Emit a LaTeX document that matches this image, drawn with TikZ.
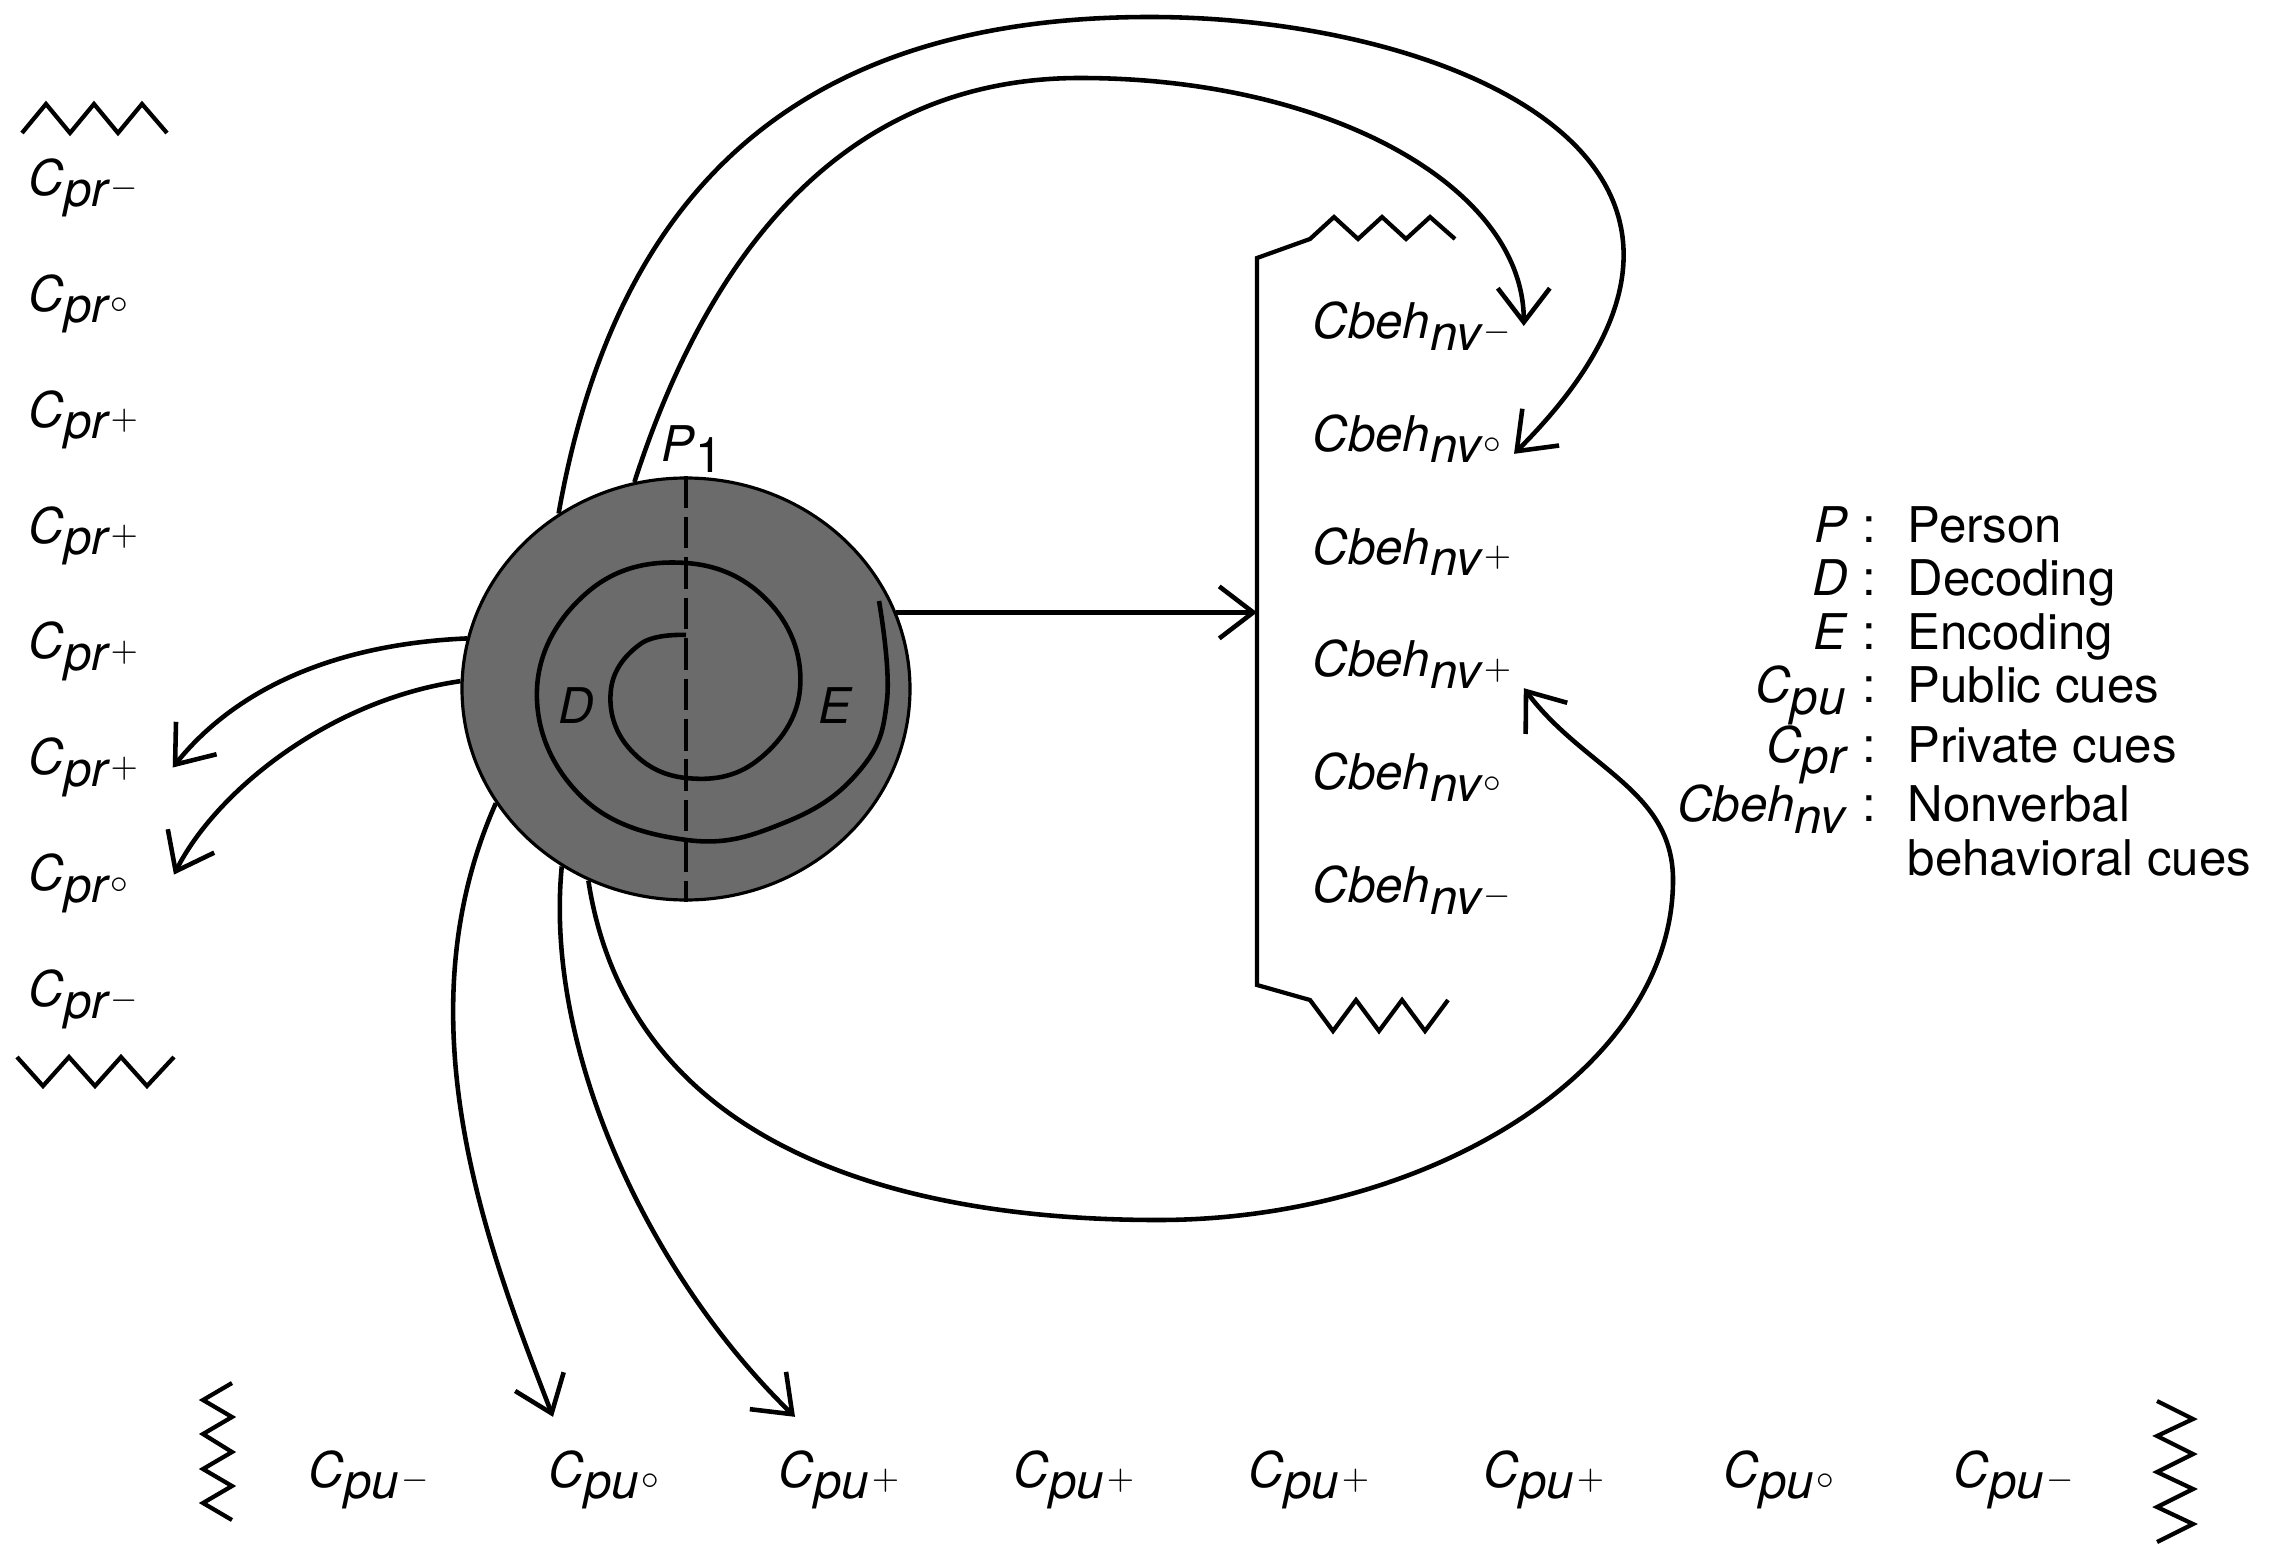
\documentclass[tikz,border=0pt]{standalone}
\usepackage{fontspec}
\setmainfont{TeX Gyre Heros}
\usetikzlibrary{arrows.meta, shapes.geometric}
\newcommand{\sgnm}{\ensuremath{-}}
\newcommand{\sgno}{\ensuremath{\circ}}
\newcommand{\sgnp}{\ensuremath{+}}
\newcommand{\cuelab}[3]{\textit{C#1\raisebox{-0.45ex}{#2}\kern0.8pt\raisebox{-0.1ex}{\fontsize{10}{10}\selectfont #3}}}
\tikzset{
  every picture/.style={line width=1.2pt},
  cue/.style={font=\fontsize{14}{16}\selectfont, inner sep=3pt},
  pucue/.style={cue, inner ysep=9pt},
  tag/.style={font=\fontsize{14}{16}\selectfont\itshape, inner sep=1pt},
  key/.style={font=\fontsize{14}{15.2}\selectfont, inner sep=0pt},
  flow/.style={-{Straight Barb[length=3.4mm, width=5.2mm]}, line width=1.3pt},
  zig/.style={line width=1.2pt},
  person/.style={ellipse, draw, line width=0.9pt, fill=black!58, minimum width=4.48cm, minimum height=4.22cm, inner sep=0pt},
}
\begin{document}
\begin{tikzpicture}
  \useasboundingbox (0,0) rectangle (22.70,-15.51);
  % person with decoding / encoding spiral
  \node[person] (p) at (6.86,-6.89) {};
  \draw[line width=1.3pt, dash pattern=on 9pt off 2.5pt] (p.north) -- (p.south);
  \draw[line width=1.3pt, shift={(p.center)}] plot[smooth, tension=0.7] coordinates {(90:0.54) (135:0.64) (180:0.75) (225:0.82) (270:0.89) (315:1.01) (360:1.14) (405:1.20) (450:1.26) (495:1.38) (540:1.49) (585:1.50) (0.01,-1.51) (1.00,-1.33) (1.74,-0.81) (2.01,-0.11) (1.93,0.88)};
  \node[tag] (d) at (5.76,-7.06) {D};
  \node[tag] (e) at (8.35,-7.06) {E};
  \node[tag] (p1) at (6.92,-4.49) {P\kern0.5pt\raisebox{-0.45ex}{\upshape 1}};
  % private cues
  \foreach \s [count=\i] in {\sgnm,\sgno,\sgnp,\sgnp,\sgnp,\sgnp,\sgno,\sgnm}
    \node[cue, anchor=west] (r\i) at (0.16,{-1.88-1.159*(\i-1)}) {\cuelab{}{pr}{\s}};
  \draw[zig] (0.22,-1.33) -- (0.46,-1.04) -- (0.70,-1.33) -- (0.94,-1.04) -- (1.18,-1.33) -- (1.42,-1.04) -- (1.67,-1.33);
  \draw[zig] (0.17,-10.57) -- (0.43,-10.86) -- (0.69,-10.57) -- (0.95,-10.86) -- (1.21,-10.57) -- (1.47,-10.86) -- (1.74,-10.57);
  % nonverbal behavioral cues
  \foreach \s [count=\i] in {\sgnm,\sgno,\sgnp,\sgnp,\sgno,\sgnm}
    \node[cue, anchor=west] (b\i) at (13.00,{-3.26-1.128*(\i-1)}) {\cuelab{beh}{nv}{\s}};
  \coordinate (brk) at (12.57,-6.11);
  \draw[zig] (14.55,-2.39) -- (14.30,-2.17) -- (14.06,-2.39) -- (13.82,-2.17) -- (13.58,-2.39) -- (13.34,-2.17) -- (13.10,-2.39) -- (12.57,-2.58) -- (brk) -- (12.57,-9.85) -- (13.10,-10.00) -- (13.33,-10.31) -- (13.56,-10.00) -- (13.79,-10.31) -- (14.02,-10.00) -- (14.25,-10.31) -- (14.48,-10.00);
  % public cues
  \foreach \s [count=\i] in {\sgnm,\sgno,\sgnp,\sgnp,\sgnp,\sgnp,\sgno,\sgnm}
    \node[pucue] (u\i) at ({3.69+2.35*(\i-1)},-14.80) {\cuelab{}{pu}{\s}};
  \draw[zig] (2.32,-13.83) -- (2.03,-14.00) -- (2.32,-14.17) -- (2.03,-14.34) -- (2.32,-14.52) -- (2.03,-14.69) -- (2.32,-14.86) -- (2.03,-15.03) -- (2.32,-15.20);
  \draw[zig] (21.57,-14.01) -- (21.93,-14.19) -- (21.57,-14.36) -- (21.93,-14.54) -- (21.57,-14.72) -- (21.93,-14.89) -- (21.57,-15.07) -- (21.93,-15.24) -- (21.57,-15.42);
  % legend
  \node[key, anchor=north west] (legend) at (16.75,-5.03) {%
    \begin{tabular}{@{}r@{}l@{}}
      \textit{P} & \hspace{4pt}:\hspace{9pt}Person\\
      \textit{D} & \hspace{4pt}:\hspace{9pt}Decoding\\
      \textit{E} & \hspace{4pt}:\hspace{9pt}Encoding\\
      \cuelab{}{pu}{} & \hspace{4pt}:\hspace{9pt}Public cues\\
      \cuelab{}{pr}{} & \hspace{4pt}:\hspace{9pt}Private cues\\
      \cuelab{beh}{nv}{} & \hspace{4pt}:\hspace{9pt}Nonverbal\\
      & \hspace{4pt}\phantom{:}\hspace{9pt}behavioral cues
    \end{tabular}};
  % flows
  \coordinate (apexi) at (10.80,-0.78);
  \coordinate (apexo) at (11.50,-0.17);
  \coordinate (loopb) at (11.58,-12.20);
  \coordinate (loopr) at (16.73,-8.80);
  \draw[flow] (p.20) -- (p.20 -| brk);
  \draw[flow] (p.104) .. controls +(0.67,2.08) and +(-2.5,0) .. (apexi) .. controls +(2.49,0) and +(0,1.39) .. (b1.east);
  \draw[flow] (p.126) .. controls +(0.61,3.45) and +(-3.3,0) .. (apexo) .. controls +(3.0,0) and +(2.9,2.9) .. (b2.-8);
  \draw[flow] (p.243) .. controls +(0.41,-2.67) and +(-2.58,0) .. (loopb) .. controls +(2.7,0) and +(0,-1.9) .. (loopr) .. controls +(0,0.9) and +(0.60,-0.80) .. (b4.-12);
  \draw[flow] (p.167) .. controls +(-1.38,-0.06) and +(0.60,0.75) .. ([xshift=0.22cm]r6.east);
  \draw[flow] (p.178) .. controls +(-1.32,-0.19) and +(0.42,0.83) .. ([xshift=0.33cm]r7.8);
  \draw[flow] (p.211) .. controls +(-0.97,-2.18) and +(-0.64,1.66) .. ([xshift=-0.51cm]u2.north);
  \draw[flow] (p.235) .. controls +(-0.18,-1.85) and +(-1.45,1.41) .. ([xshift=-0.44cm]u3.north);
\end{tikzpicture}
\end{document}
